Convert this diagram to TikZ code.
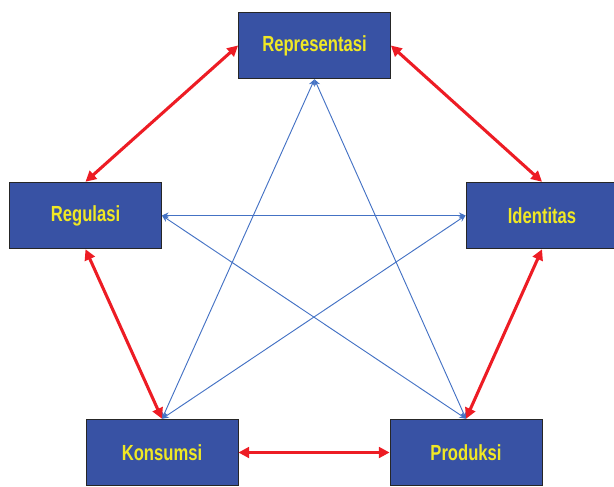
\documentclass[tikz,border=0pt]{standalone}
\usepackage{fontspec}
\newfontfamily\stagefont{Liberation Sans}[FakeStretch=0.76]
\usetikzlibrary{arrows.meta}
\definecolor{stageblue}{RGB}{56,82,164}
\definecolor{stageyellow}{RGB}{240,232,36}
\definecolor{linkred}{RGB}{237,28,36}
\definecolor{linkblue}{RGB}{68,114,196}

\begin{document}
\begin{tikzpicture}[x=0.75pt,y=-0.75pt,
    stage/.style={draw=black!85, fill=stageblue, line width=0.6pt, inner sep=0pt,
      minimum width=114pt, minimum height=50pt, text=stageyellow,
      font=\stagefont\bfseries\fontsize{16.4}{18}\selectfont},
    redlink/.style={draw=linkred, line width=2.3pt,
      {Triangle[length=8pt,width=8pt]}-{Triangle[length=8pt,width=8pt]}},
    bluelink/.style={draw=linkblue, line width=0.7pt,
      {Stealth[length=5pt,width=4.5pt]}-{Stealth[length=5pt,width=4.5pt]}}]
    \useasboundingbox (0,0) rectangle (614,486);

    \node[stage] (rep) at (314.5,45.5) {Representasi};
    \node[stage] (reg) at (85.5,215.5)  {Regulasi};
    \node[stage] (ide) at (542,215.5)   {Identitas};
    \node[stage] (kon) at (162,452.5)   {Konsumsi};
    \node[stage] (pro) at (466,452.5)   {Produksi};

    \draw[bluelink] (rep.south) -- (kon.north);
    \draw[bluelink] (rep.south) -- (pro.north);
    \draw[bluelink] (reg.east) -- (ide.west);
    \draw[bluelink] (reg.east) -- (pro.north);
    \draw[bluelink] (ide.west) -- (kon.north);

    \draw[redlink] (reg.north) -- (rep.west);
    \draw[redlink] (rep.east) -- (ide.north);
    \draw[redlink] (reg.south) -- (kon.north);
    \draw[redlink] (ide.south) -- (pro.north);
    \draw[redlink] (kon.east) -- (pro.west);
\end{tikzpicture}
\end{document}
